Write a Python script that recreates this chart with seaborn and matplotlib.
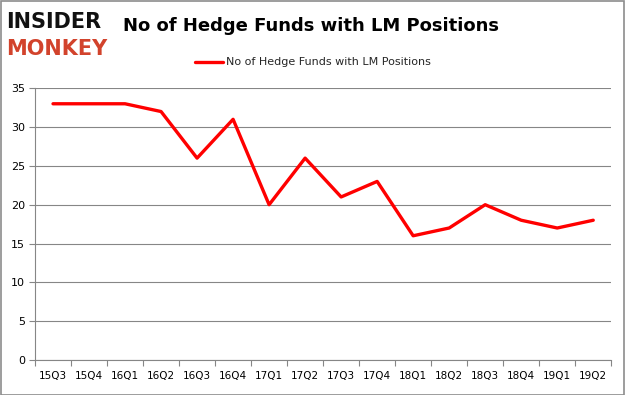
import matplotlib
matplotlib.use("Agg")
import matplotlib.pyplot as plt
import seaborn as sns
import pandas as pd
from matplotlib.patches import Rectangle

quarters = ["15Q3", "15Q4", "16Q1", "16Q2", "16Q3", "16Q4", "17Q1", "17Q2",
            "17Q3", "17Q4", "18Q1", "18Q2", "18Q3", "18Q4", "19Q1", "19Q2"]
funds = [33, 33, 33, 32, 26, 31, 20, 26, 21, 23, 16, 17, 20, 18, 17, 18]
series_name = "No of Hedge Funds with LM Positions"
yticks = [0, 5, 10, 15, 20, 25, 30, 35]

sns.set_theme(style="white")
plt.rcParams['font.family'] = ['DejaVu Sans']

df = pd.DataFrame({"quarter": quarters, "funds": funds, "x": range(len(quarters))})

fig = plt.figure(figsize=(6.25, 3.95), dpi=100)
ax = fig.add_axes([0.056, 0.0886, 0.922, 0.688])

sns.lineplot(data=df, x="x", y="funds", ax=ax, color="#ff0000", linewidth=2.4,
             label=series_name, legend=False)

ax.set_xlim(-0.5, len(quarters) - 0.5)
ax.set_ylim(0, 35)
ax.set_yticks(yticks)
ax.set_yticklabels([str(v) for v in yticks], fontsize=8, color="#000000")
ax.set_xticks(range(len(quarters)))
ax.set_xticklabels(quarters, fontsize=7.5, color="#000000")
ax.set_xticks([i - 0.5 for i in range(len(quarters) + 1)], minor=True)
ax.tick_params(axis="x", which="major", length=0, pad=8)
ax.tick_params(axis="x", which="minor", length=4, color="#868686", width=0.8, bottom=True)
ax.tick_params(axis="y", length=4, color="#868686", width=0.8, left=True, pad=3)
ax.set_xlabel("")
ax.set_ylabel("")
ax.grid(axis="y", color="#868686", linewidth=0.8)
ax.set_axisbelow(True)
for s in ["top", "right"]:
    ax.spines[s].set_visible(False)
for s in ["left", "bottom"]:
    ax.spines[s].set_color("#868686")
    ax.spines[s].set_linewidth(0.8)

# Title
fig.text(0.498, 0.935, series_name, ha="center", va="center", fontsize=13,
         fontweight="bold", color="#000000")

# Legend
fig.legend([ax.get_lines()[0]], [series_name], loc="center", bbox_to_anchor=(0.5, 0.842),
           frameon=False, fontsize=8, handlelength=2.6, handletextpad=0.2)

# Logo
fig.text(0.010, 0.945, "INSIDER", ha="left", va="center", fontsize=15,
         fontweight="bold", color="#111111")
fig.text(0.010, 0.875, "MONKEY", ha="left", va="center", fontsize=15,
         fontweight="bold", color="#d2432c")

# Border
fig.patches.append(Rectangle((0.001, 0.001), 0.997, 0.997, transform=fig.transFigure,
                             fill=False, edgecolor="#8c8c8c", linewidth=1.2))

fig.savefig("out.png", dpi=100)
